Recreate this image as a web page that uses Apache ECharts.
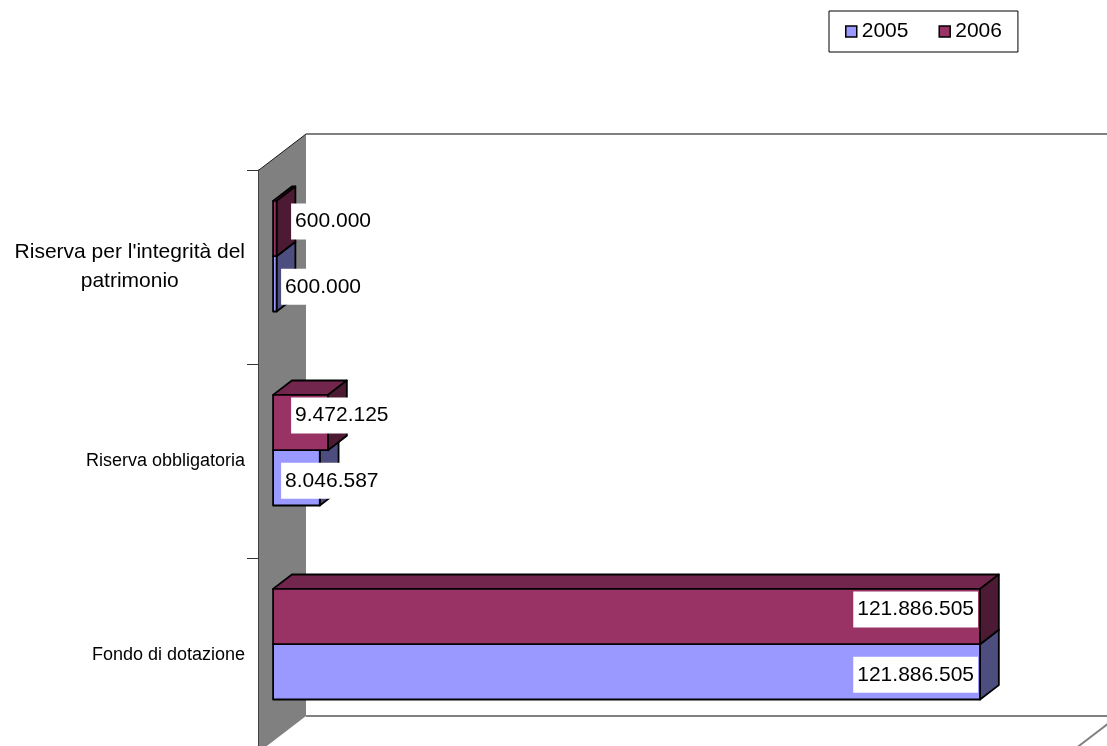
<!DOCTYPE html>
<html>
<head>
<meta charset="utf-8">
<style>
  html, body { margin: 0; padding: 0; background: #fff; overflow: hidden; }
  #chart { width: 1107px; height: 760px; }
</style>
<script src="https://cdn.jsdelivr.net/npm/echarts@6/dist/echarts.min.js"></script>
</head>
<body>
<div id="chart"></div>
<script>
// Patrimonio: categories bottom-to-top, values in euro
const categories = ['Fondo di dotazione', 'Riserva obbligatoria', "Riserva per l'integrità del\npatrimonio"];
const years = ['2005', '2006'];
const values2005 = [121886505, 8046587, 600000];
const values2006 = [121886505, 9472125, 600000];
const axisMax = 140000000;

// Oblique projection of the 3D box: offset of the back plane relative to the front plane
const DEPTH_X = 47, DEPTH_Y = 36;
const BAR_FRONT = 0.3, BAR_DEPTH = 0.4;   // bars occupy depth 0.3 .. 0.7
const BAR_SHARE = 0.285;                   // bar thickness as share of category band

const FONT = '"Liberation Sans", Arial, Helvetica, sans-serif';
const LABEL_FONT = '21px ' + FONT;

const palette = {
  '2005': { front: '#9999FF', top: '#7373BF', side: '#4D4D80' },
  '2006': { front: '#993366', top: '#73264D', side: '#4D1A33' }
};

function fmt(v) {
  return String(Math.round(v)).replace(/\B(?=(\d{3})+(?!\d))/g, '.');
}

const measureCtx = document.createElement('canvas').getContext('2d');
function textWidth(t, font) {
  measureCtx.font = font;
  return measureCtx.measureText(t).width;
}

// Side wall, back wall edges and floor edge
function renderWalls(params, api) {
  const cs = params.coordSys;
  const L = cs.x, T = cs.y, R = cs.x + cs.width, B = cs.y + cs.height;
  const gray = '#808080';
  return {
    type: 'group',
    children: [
      { type: 'polygon', shape: { points: [[L, T], [L + DEPTH_X, T - DEPTH_Y], [L + DEPTH_X, B - DEPTH_Y], [L, B]] },
        style: { fill: gray, stroke: null } },
      { type: 'line', shape: { x1: L, y1: T, x2: L + DEPTH_X, y2: T - DEPTH_Y },
        style: { stroke: '#1a1a1a', lineWidth: 1 } },
      { type: 'line', shape: { x1: L + DEPTH_X, y1: T - DEPTH_Y, x2: R + DEPTH_X, y2: T - DEPTH_Y },
        style: { stroke: gray, lineWidth: 2 } },
      { type: 'line', shape: { x1: L + DEPTH_X, y1: B - DEPTH_Y, x2: R + DEPTH_X, y2: B - DEPTH_Y },
        style: { stroke: gray, lineWidth: 2 } },
      { type: 'line', shape: { x1: R + DEPTH_X, y1: B - DEPTH_Y, x2: R, y2: B },
        style: { stroke: gray, lineWidth: 2 } },
      { type: 'line', shape: { x1: R + DEPTH_X, y1: T - DEPTH_Y, x2: R + DEPTH_X, y2: B - DEPTH_Y },
        style: { stroke: gray, lineWidth: 2 } }
    ]
  };
}

// 3D bar: front face, top face, right face and a value label
function barRenderer(year, slot) {
  const col = palette[year];
  return function (params, api) {
    const v = api.value(0), c = api.value(1);
    const base = api.coord([0, c]);
    const tip = api.coord([v, c]);
    const band = api.size([0, 1])[1];
    const ox = DEPTH_X * BAR_FRONT, oy = DEPTH_Y * BAR_FRONT;
    const bx = DEPTH_X * BAR_DEPTH, by = DEPTH_Y * BAR_DEPTH;
    const x0 = base[0] + ox, x1 = tip[0] + ox;
    const yc = base[1] - oy;
    const h = band * BAR_SHARE;
    const yt = slot === 1 ? yc - h : yc;
    const yb = slot === 1 ? yc : yc + h;
    const stroke = { stroke: '#000', lineWidth: 1.8, lineJoin: 'round' };

    const txt = fmt(v);
    const w = textWidth(txt, LABEL_FONT);
    const minLeft = x0 + (slot === 1 ? 18 : 8);
    const left = Math.max(x1 - w - 10, minLeft);
    const cy = (yt + yb) / 2 + (slot === 1 ? -7 : 3);

    return {
      type: 'group',
      children: [
        { type: 'polygon', shape: { points: [[x0, yt], [x0 + bx, yt - by], [x1 + bx, yt - by], [x1, yt]] },
          style: Object.assign({ fill: col.top }, stroke) },
        { type: 'polygon', shape: { points: [[x1, yt], [x1 + bx, yt - by], [x1 + bx, yb - by], [x1, yb]] },
          style: Object.assign({ fill: col.side }, stroke) },
        { type: 'rect', shape: { x: x0, y: yt, width: x1 - x0, height: yb - yt },
          style: Object.assign({ fill: col.front }, stroke) },
        { type: 'text', z2: 100,
          style: { text: txt, x: left, y: cy, font: LABEL_FONT, fill: '#000',
                   backgroundColor: '#fff', padding: [8, 4, 7, 4],
                   align: 'left', verticalAlign: 'middle' } }
      ]
    };
  };
}

const chart = echarts.init(document.getElementById('chart'), null, { renderer: 'canvas' });

chart.setOption({
  animation: false,
  backgroundColor: '#fff',
  textStyle: { fontFamily: FONT },
  legend: {
    data: years,
    left: 829, top: 11,
    padding: [10, 16, 10, 16],
    itemGap: 30,
    itemWidth: 11, itemHeight: 11,
    icon: 'rect',
    borderColor: '#000', borderWidth: 1,
    itemStyle: { borderColor: '#000', borderWidth: 1.5 },
    textStyle: { fontSize: 21, color: '#000', fontFamily: FONT }
  },
  grid: { left: 259, top: 170, width: 812, height: 582, containLabel: false },
  xAxis: {
    type: 'value', min: 0, max: axisMax,
    show: false
  },
  yAxis: {
    type: 'category',
    data: categories,
    axisLine: { show: true, lineStyle: { color: '#000', width: 1.5 } },
    axisTick: { show: true, length: 12, lineStyle: { color: '#333', width: 1 } },
    splitLine: { show: false },
    axisLabel: {
      margin: 14,
      align: 'right',
      formatter: function (v) {
        const lines = v.split('\n');
        const tag = lines.length > 1 ? 'w' : 'n';
        return lines.map(function (s) { return '{' + tag + '|' + s + '}'; }).join('\n');
      },
      rich: {
        w: { align: 'center', fontSize: 21, lineHeight: 29, color: '#000', fontFamily: FONT },
        n: { align: 'center', fontSize: 18, lineHeight: 29, color: '#000', fontFamily: FONT }
      }
    }
  },
  series: [
    {
      type: 'custom', name: 'walls', z: 1, clip: false, silent: true,
      renderItem: renderWalls,
      data: [[0, 0]],
      encode: { x: 0, y: 1 }
    },
    {
      type: 'custom', name: '2005', z: 2, clip: false,
      itemStyle: { color: palette['2005'].front },
      renderItem: barRenderer('2005', 0),
      data: values2005.map(function (v, i) { return [v, i]; }),
      encode: { x: 0, y: 1 }
    },
    {
      type: 'custom', name: '2006', z: 2, clip: false,
      itemStyle: { color: palette['2006'].front },
      renderItem: barRenderer('2006', 1),
      data: values2006.map(function (v, i) { return [v, i]; }),
      encode: { x: 0, y: 1 }
    }
  ]
});
</script>
</body>
</html>
